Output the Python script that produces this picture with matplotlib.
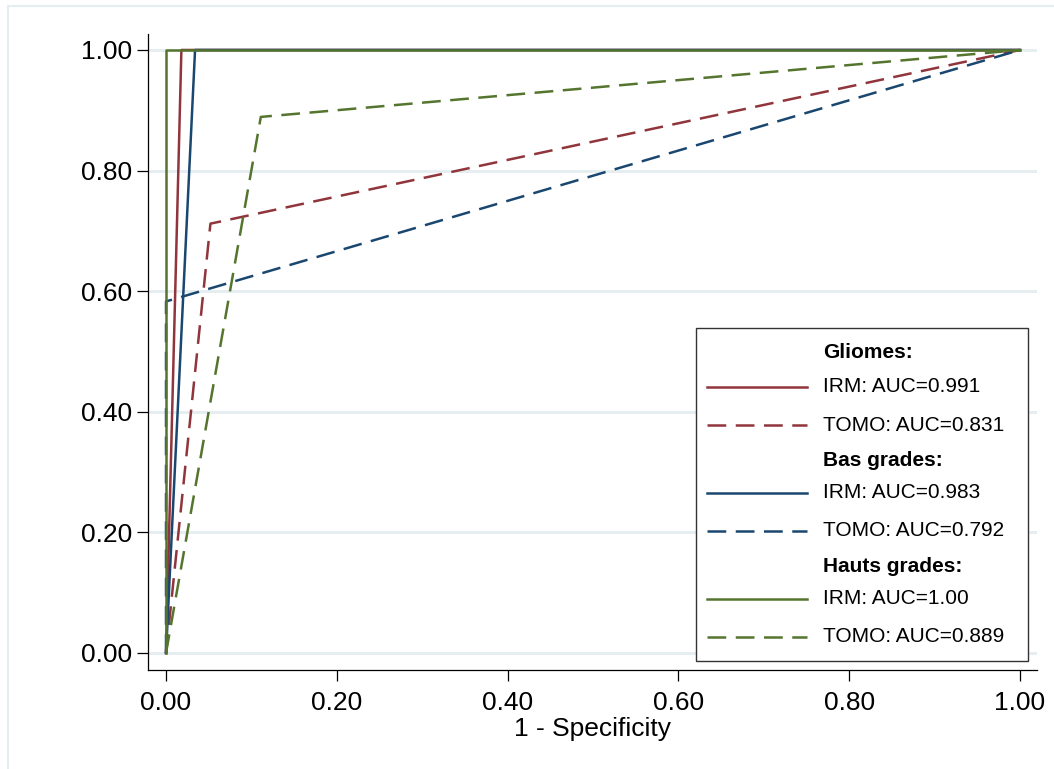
import matplotlib
matplotlib.use("Agg")
import matplotlib.pyplot as plt
from matplotlib.lines import Line2D
from matplotlib.patches import Rectangle

plt.rcParams['font.family'] = ['Liberation Sans', 'DejaVu Sans']

# ROC curve points (1 - specificity, sensitivity)
gliomes_irm_x = [0.0, 0.018, 1.0]
gliomes_irm_y = [0.0, 1.0, 1.0]
gliomes_tomo_x = [0.0, 0.052, 1.0]
gliomes_tomo_y = [0.0, 0.712, 1.0]
bas_irm_x = [0.0, 0.034, 1.0]
bas_irm_y = [0.0, 1.0, 1.0]
bas_tomo_x = [0.0, 0.0, 1.0]
bas_tomo_y = [0.0, 0.583, 1.0]
hauts_irm_x = [0.0, 0.0, 1.0]
hauts_irm_y = [0.0, 1.0, 1.0]
hauts_tomo_x = [0.0, 0.111, 1.0]
hauts_tomo_y = [0.0, 0.889, 1.0]

group_titles = ["Gliomes:", "Bas grades:", "Hauts grades:"]
irm_labels = ["IRM: AUC=0.991", "IRM: AUC=0.983", "IRM: AUC=1.00"]
tomo_labels = ["TOMO: AUC=0.831", "TOMO: AUC=0.792", "TOMO: AUC=0.889"]
ticks = [0.0, 0.2, 0.4, 0.6, 0.8, 1.0]
tick_labels = ["0.00", "0.20", "0.40", "0.60", "0.80", "1.00"]
x_label = "1 - Specificity"

RED = "#90353b"
BLUE = "#1a476f"
GREEN = "#55752f"
GRID = "#e4edf0"
colors = [RED, BLUE, GREEN]
DASH = (0, (7.5, 3.8))
LW = 1.8

W, H = 1054, 769
fig = plt.figure(figsize=(W / 100, H / 100), dpi=100)
fig.patch.set_facecolor("white")

# outer light frame
fig.add_artist(Line2D([8 / W, 8 / W], [0, 1 - 6 / H], transform=fig.transFigure,
                      color=GRID, lw=1.5))
fig.add_artist(Line2D([8 / W, 1], [1 - 6 / H, 1 - 6 / H], transform=fig.transFigure,
                      color=GRID, lw=1.5))

ax = fig.add_axes([148 / W, (H - 670) / H, (1037 - 148) / W, (670 - 34) / H])
ax.set_xlim(-0.0211, 1.0199)
ax.set_ylim(-0.0282, 1.0265)

for t in ticks:
    ax.axhline(t, color=GRID, lw=2, zorder=0.5)

series = [
    (gliomes_irm_x, gliomes_irm_y, RED, '-'),
    (gliomes_tomo_x, gliomes_tomo_y, RED, DASH),
    (bas_irm_x, bas_irm_y, BLUE, '-'),
    (bas_tomo_x, bas_tomo_y, BLUE, DASH),
    (hauts_irm_x, hauts_irm_y, GREEN, '-'),
    (hauts_tomo_x, hauts_tomo_y, GREEN, DASH),
]
for x, y, c, ls in series:
    ax.plot(x, y, color=c, lw=LW, linestyle=ls, zorder=2)

ax.set_xticks(ticks)
ax.set_xticklabels(tick_labels)
ax.set_yticks(ticks)
ax.set_yticklabels(tick_labels)
ax.tick_params(axis='both', direction='out', length=7.8, width=0.9, labelsize=19,
               colors='black')
ax.tick_params(axis='y', pad=3.5)
ax.tick_params(axis='x', pad=7.5)
ax.spines['top'].set_visible(False)
ax.spines['right'].set_visible(False)
for s in ['left', 'bottom']:
    ax.spines[s].set_linewidth(0.9)
    ax.spines[s].set_color('black')

ax.set_xlabel(x_label, fontsize=19, labelpad=1.5)

# legend box (drawn manually, in figure pixel coords)
def fx(px):
    return px / W

def fy(py):
    return 1 - py / H

fig.add_artist(Rectangle((fx(696), fy(661)), (1028 - 696) / W, (661 - 328) / H,
                         transform=fig.transFigure, facecolor='white',
                         edgecolor='#333333', lw=1.0, zorder=5))
title_rows = [353, 460, 567]
irm_rows = [387, 493, 599]
tomo_rows = [425, 531, 637]
for i in range(3):
    fig.text(fx(823), fy(title_rows[i]), group_titles[i], fontsize=15,
             fontweight='bold', va='center', ha='left', zorder=6)
    fig.add_artist(Line2D([fx(707), fx(807)], [fy(irm_rows[i])] * 2,
                          transform=fig.transFigure, color=colors[i], lw=LW, zorder=6))
    fig.text(fx(823), fy(irm_rows[i]), irm_labels[i], fontsize=15,
             va='center', ha='left', zorder=6)
    fig.add_artist(Line2D([fx(707), fx(807)], [fy(tomo_rows[i])] * 2,
                          transform=fig.transFigure, color=colors[i], lw=LW,
                          linestyle=DASH, zorder=6))
    fig.text(fx(823), fy(tomo_rows[i]), tomo_labels[i], fontsize=15,
             va='center', ha='left', zorder=6)

fig.savefig("out.png", dpi=100, facecolor='white')
